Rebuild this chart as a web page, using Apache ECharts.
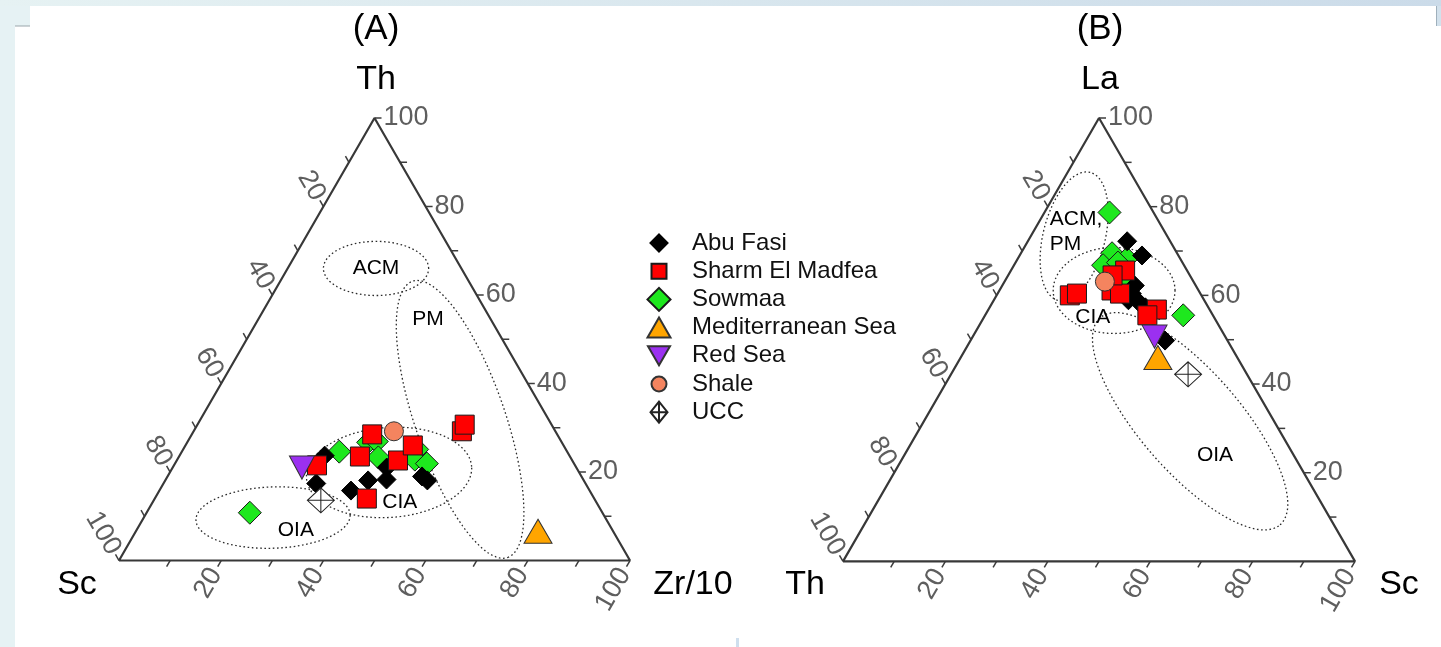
<!DOCTYPE html>
<html>
<head>
<meta charset="utf-8">
<title>Th–Sc–Zr/10 and La–Th–Sc ternary diagrams</title>
<script src="https://cdn.jsdelivr.net/npm/echarts@6/dist/echarts.min.js"></script>
<style>
  html, body { margin: 0; padding: 0; background: #ffffff; }
  #chart { width: 1441px; height: 647px; }
</style>
</head>
<body>
<div id="chart"></div>
<script>
// ---------------------------------------------------------------
// Sample compositions. Each entry is [top, left, right] in percent.
// Panel A: [Th, Sc, Zr/10]      Panel B: [La, Th, Sc]
// ---------------------------------------------------------------
const seriesNames = ['Abu Fasi', 'Sharm El Madfea', 'Sowmaa', 'Mediterranean Sea', 'Red Sea', 'Shale', 'UCC'];

const abuFasiA = [[23.7, 47.9, 28.4], [17.4, 52.7, 29.9], [15.8, 46.7, 37.5], [18.1, 42.2, 39.7],
                  [21.0, 37.1, 41.9], [18.3, 38.5, 43.2], [19.0, 31.2, 49.8], [18.1, 30.6, 51.3]];
const sharmA   = [[21.5, 50.5, 28.0], [23.5, 41.1, 35.4], [28.5, 36.2, 35.3], [22.6, 34.1, 43.3],
                  [26.0, 29.5, 44.5], [14.0, 44.5, 41.5], [29.2, 18.3, 52.5], [30.7, 17.0, 52.3]];
const sowmaaA  = [[24.6, 44.6, 30.8], [26.7, 37.9, 35.4], [26.9, 36.1, 37.0], [23.3, 37.6, 39.1],
                  [25.1, 29.1, 45.8], [22.8, 30.7, 46.5], [21.9, 28.8, 49.3], [10.8, 69.0, 20.2]];
const medSeaA  = [[6.6, 14.7, 78.7]];
const redSeaA  = [[21.0, 53.7, 25.3]];
const shaleA   = [[29.2, 31.6, 39.2]];
const uccA     = [[13.6, 53.7, 32.7]];

const abuFasiB = [[72.2, 8.4, 19.4], [69.0, 7.1, 23.9], [62.2, 11.9, 25.9], [60.4, 13.4, 26.2],
                  [58.9, 14.8, 26.3], [58.2, 12.9, 28.9], [57.3, 12.3, 30.4], [49.8, 12.2, 38.0]];
const sharmB   = [[65.6, 12.1, 22.3], [60.0, 25.7, 14.3], [60.4, 24.1, 15.5], [61.1, 17.0, 21.9],
                  [60.4, 15.7, 23.9], [56.8, 10.3, 32.9], [55.5, 12.8, 31.7], [64.5, 15.1, 20.4]];
const sowmaaB  = [[78.7, 8.6, 12.7], [69.5, 12.7, 17.8], [66.8, 15.8, 17.4], [68.3, 10.4, 21.3],
                  [55.5, 5.8, 38.7], [67.4, 12.6, 20.0], [62.7, 15.1, 22.2], [62.9, 12.9, 24.2]];
const medSeaB  = [[46.0, 15.5, 38.5]];
const redSeaB  = [[50.7, 13.8, 35.5]];
const shaleB   = [[63.1, 17.3, 19.6]];
const uccB     = [[42.2, 11.5, 46.3]];

// Tectonic-setting fields: centre [top, left, right], semi-axes (percent units), tilt (deg)
const fieldNamesA   = ['ACM', 'PM', 'CIA', 'OIA'];
const fieldCentresA = [[66.0, 16.7, 17.3], [31.9, 17.3, 50.8], [19.9, 37.2, 42.9], [9.7, 65.0, 25.3]];
const fieldAxesA    = [[10.3, 5.3, 0], [28.6, 8.8, -71], [16.2, 8.8, 4], [15.1, 6.0, 2]];
const fieldTextA    = ['ACM', 'PM', 'CIA', 'OIA'];
const fieldTextPosA = [[66.0, 16.7, 17.3], [54.5, 12.3, 33.2], [13.1, 38.5, 48.4], [6.8, 62.0, 31.2]];

const fieldNamesB   = ['ACM, PM', 'CIA', 'OIA'];
const fieldCentresB = [[73.3, 18.2, 8.5], [61.1, 16.5, 22.4], [31.6, 16.4, 52.0]];
const fieldAxesB    = [[12.9, 6.05, 76], [11.9, 8.4, 0], [26.8, 9.8, -49]];
const fieldTextB    = ['ACM,\nPM', 'CIA', 'OIA'];
const fieldTextPosB = [[74.4, 22.4, 3.2], [55.0, 23.7, 21.3], [23.9, 15.4, 60.7]];

// Axis ticks (every 10 %) and labelled values
const tickValues = [10, 20, 30, 40, 50, 60, 70, 80, 90, 100];
const tickLabels = [20, 40, 60, 80, 100];

// Corner names
const cornersA = ['Th', 'Sc', 'Zr/10'];
const cornersB = ['La', 'Th', 'Sc'];
const panelTitles = ['(A)', '(B)'];

// ---------------------------------------------------------------
const FONT = '"Liberation Sans", Arial, Helvetica, sans-serif';
const SQ = Math.sqrt(3) / 2;

// ternary [top, left, right] -> cartesian (x along base, y up), both in percent units
function toXY(c) {
  const s = c[0] + c[1] + c[2];
  const t = c[0] / s * 100, r = c[2] / s * 100;
  return [r + t / 2, t * SQ];
}

function ellipsePoints(centre, ax) {
  const c = toXY(centre), th = ax[2] * Math.PI / 180, pts = [];
  for (let i = 0; i <= 180; i++) {
    const t = i / 180 * 2 * Math.PI;
    const ex = ax[0] * Math.cos(t), ey = ax[1] * Math.sin(t);
    pts.push([c[0] + ex * Math.cos(th) - ey * Math.sin(th), c[1] + ex * Math.sin(th) + ey * Math.cos(th)]);
  }
  return pts;
}

function tickData() {
  const out = [];
  tickValues.forEach(v => {
    out.push(toXY([v, 0, 100 - v]).concat([0, v]));   // right edge: top component
    out.push(toXY([100 - v, v, 0]).concat([1, v]));   // left edge: left component
    out.push(toXY([0, 100 - v, v]).concat([2, v]));   // base: right component
  });
  return out;
}

// tick direction (screen) and label rotation for each edge
const TICK_DIR = [[1, 0], [-0.5, -SQ], [-0.5, SQ]];
const TICK_ROT = [0, -Math.PI / 3, Math.PI / 3];

function renderTick(params, api) {
  const p = api.coord([api.value(0), api.value(1)]);
  const e = api.value(2), v = api.value(3);
  const d = TICK_DIR[e], len = 7;
  const children = [{
    type: 'line',
    shape: { x1: p[0], y1: p[1], x2: p[0] + d[0] * len, y2: p[1] + d[1] * len },
    style: { stroke: '#3c3c3c', lineWidth: 1.5 }
  }];
  if (tickLabels.indexOf(v) >= 0) {
    const g = len + (e === 2 ? 4 : 2);
    children.push({
      type: 'text',
      x: p[0] + d[0] * g, y: p[1] + d[1] * g,
      rotation: TICK_ROT[e],
      style: {
        text: String(v), align: e === 0 ? 'left' : 'right', verticalAlign: 'middle',
        fill: '#5e5e5e', font: '27px ' + FONT
      }
    });
  }
  return { type: 'group', children: children };
}

function fieldLabelRenderer(texts) {
  return function (params, api) {
    const p = api.coord([api.value(0), api.value(1)]);
    const i = api.value(2);
    const multi = texts[i].indexOf('\n') >= 0;
    return {
      type: 'text', x: p[0], y: p[1],
      style: {
        text: texts[i], align: multi ? 'left' : 'center', verticalAlign: 'middle',
        fill: '#000', font: '21px ' + FONT, lineHeight: 25
      }
    };
  };
}

const UCC_PATH = 'path://M0,-10L9,0L0,10L-9,0ZM0,-10L0,10M-9,0L9,0';
const SYMBOLS = [
  { symbol: 'diamond', symbolSize: 19, color: '#000000', border: '#000000', z: 4 },
  { symbol: 'rect', symbolSize: 19, color: '#ff0000', border: '#1a1a1a', z: 5 },
  { symbol: 'diamond', symbolSize: 23, color: '#1ee81e', border: '#1a1a1a', z: 3 },
  { symbol: 'triangle', symbolSize: [28, 24], color: '#ffa500', border: '#333333', z: 6 },
  { symbol: 'path://M0,0L2,0L1,1.7Z', symbolSize: [25, 23], color: '#9b30f0', border: '#333333', z: 6 },
  { symbol: 'circle', symbolSize: 19, color: '#f4845f', border: '#333333', z: 6 },
  { symbol: UCC_PATH, symbolSize: [27, 25], color: '#ffffff', border: '#222222', z: 6 }
];
// legend icons drawn inside a 24x24 box
const LEGEND_ICONS = [
  'path://M0,0M24,24M12,3.5L20.5,12L12,20.5L3.5,12Z',
  'path://M0,0M24,24M4.5,4.5L19.5,4.5L19.5,19.5L4.5,19.5Z',
  'path://M0,0M24,24M12,0.5L23.5,12L12,23.5L0.5,12Z',
  'path://M0,0M24,24M12,2L23.5,22L0.5,22Z',
  'path://M0,0M24,24M1,2.5L23,2.5L12,21.5Z',
  'path://M0,0M24,24M19.5,12A7.5,7.5,0,1,1,4.5,12A7.5,7.5,0,1,1,19.5,12Z',
  'path://M0,0M24,24M12,1.5L20.5,12L12,22.5L3.5,12ZM12,1.5L12,22.5M3.5,12L20.5,12'
];

const panels = [
  { sets: [abuFasiA, sharmA, sowmaaA, medSeaA, redSeaA, shaleA, uccA],
    fields: fieldNamesA.map((n, i) => ({ centre: fieldCentresA[i], axes: fieldAxesA[i] })),
    texts: fieldTextA, textPos: fieldTextPosA },
  { sets: [abuFasiB, sharmB, sowmaaB, medSeaB, redSeaB, shaleB, uccB],
    fields: fieldNamesB.map((n, i) => ({ centre: fieldCentresB[i], axes: fieldAxesB[i] })),
    texts: fieldTextB, textPos: fieldTextPosB }
];

const grids = [
  { left: 119, top: 118, width: 511, height: 442.5 },
  { left: 843, top: 118, width: 512, height: 443.4 }
];

const series = [];
panels.forEach((pn, gi) => {
  // triangle frame
  series.push({
    type: 'line', xAxisIndex: gi, yAxisIndex: gi, silent: true, symbol: 'none', z: 1,
    data: [toXY([0, 100, 0]), toXY([0, 0, 100]), toXY([100, 0, 0]), toXY([0, 100, 0])],
    lineStyle: { color: '#383838', width: 2.2 }, clip: false
  });
  // ticks and tick labels
  series.push({
    type: 'custom', xAxisIndex: gi, yAxisIndex: gi, silent: true, z: 1, clip: false,
    data: tickData(), encode: { x: 0, y: 1 }, renderItem: renderTick
  });
  // dotted setting fields
  pn.fields.forEach(f => {
    series.push({
      type: 'line', xAxisIndex: gi, yAxisIndex: gi, silent: true, symbol: 'none', z: 1, clip: false,
      data: ellipsePoints(f.centre, f.axes),
      lineStyle: { color: '#2a2a2a', width: 1.3, type: [1.6, 2.6] }
    });
  });
  // field names
  series.push({
    type: 'custom', xAxisIndex: gi, yAxisIndex: gi, silent: true, z: 2, clip: false,
    data: pn.textPos.map((p, i) => toXY(p).concat([i])), encode: { x: 0, y: 1 },
    renderItem: fieldLabelRenderer(pn.texts)
  });
  // samples
  pn.sets.forEach((set, si) => {
    const s = SYMBOLS[si];
    series.push({
      type: 'scatter', name: seriesNames[si], xAxisIndex: gi, yAxisIndex: gi,
      symbol: s.symbol, symbolSize: s.symbolSize, z: s.z,
      data: set.map(toXY),
      itemStyle: { color: s.color, borderColor: s.border, borderWidth: 1, opacity: 1 },
      emphasis: { disabled: true }
    });
  });
});

const cornerText = (txt, x, y) => ({
  type: 'text', x: x, y: y, z: 10,
  style: { text: txt, font: '34px ' + FONT, fill: '#000', align: 'center', verticalAlign: 'middle' }
});

const option = {
  animation: false,
  backgroundColor: '#ffffff',
  grid: grids,
  xAxis: grids.map((g, i) => ({ type: 'value', gridIndex: i, min: 0, max: 100, show: false })),
  yAxis: grids.map((g, i) => ({ type: 'value', gridIndex: i, min: 0, max: 100 * SQ, show: false })),
  legend: {
    orient: 'vertical', left: 641, top: 225, padding: 5,
    itemWidth: 24, itemHeight: 24, itemGap: 2.2,
    selectedMode: false,
    data: seriesNames.map((n, i) => ({ name: n, icon: LEGEND_ICONS[i] })),
    textStyle: { fontFamily: FONT, fontSize: 24, color: '#111', lineHeight: 24, padding: [0, 0, 0, 16] }
  },
  graphic: [
    // page frame
    { type: 'rect', shape: { x: 0, y: 0, width: 1441, height: 6 }, silent: true, z: 0,
      style: { fill: new echarts.graphic.LinearGradient(0, 0, 1, 0, [{ offset: 0, color: '#e6f2f3' }, { offset: 1, color: '#cbdbe9' }]) } },
    { type: 'rect', shape: { x: 0, y: 6, width: 15, height: 641 }, silent: true, z: 0, style: { fill: '#e6f2f4' } },
    { type: 'rect', shape: { x: 0, y: 6, width: 30, height: 20 }, silent: true, z: 0, style: { fill: '#e6f2f4' } },
    { type: 'line', shape: { x1: 15, y1: 26, x2: 30, y2: 26 }, silent: true, z: 0, style: { stroke: '#9aa6ab', lineWidth: 1 } },
    { type: 'rect', shape: { x: 1437, y: 6, width: 4, height: 20 }, silent: true, z: 0, style: { fill: '#d2e1ec' } },
    { type: 'line', shape: { x1: 1436.5, y1: 6, x2: 1436.5, y2: 26 }, silent: true, z: 0, style: { stroke: '#9fb0bc', lineWidth: 1 } },
    { type: 'rect', shape: { x: 736, y: 638, width: 3, height: 9 }, silent: true, z: 0, style: { fill: '#cfdfee' } },
    // panel titles
    { type: 'text', x: 376, y: 29, z: 10, style: { text: panelTitles[0], font: '35px ' + FONT, fill: '#000', align: 'center', verticalAlign: 'middle' } },
    { type: 'text', x: 1100, y: 29, z: 10, style: { text: panelTitles[1], font: '35px ' + FONT, fill: '#000', align: 'center', verticalAlign: 'middle' } },
    // corner names
    cornerText(cornersA[0], 376, 80),
    cornerText(cornersA[1], 77, 585),
    cornerText(cornersA[2], 693, 585),
    cornerText(cornersB[0], 1100, 80),
    cornerText(cornersB[1], 805, 585),
    cornerText(cornersB[2], 1399, 585)
  ],
  series: series
};

const chart = echarts.init(document.getElementById('chart'), null, { renderer: 'canvas' });
chart.setOption(option);
</script>
</body>
</html>
